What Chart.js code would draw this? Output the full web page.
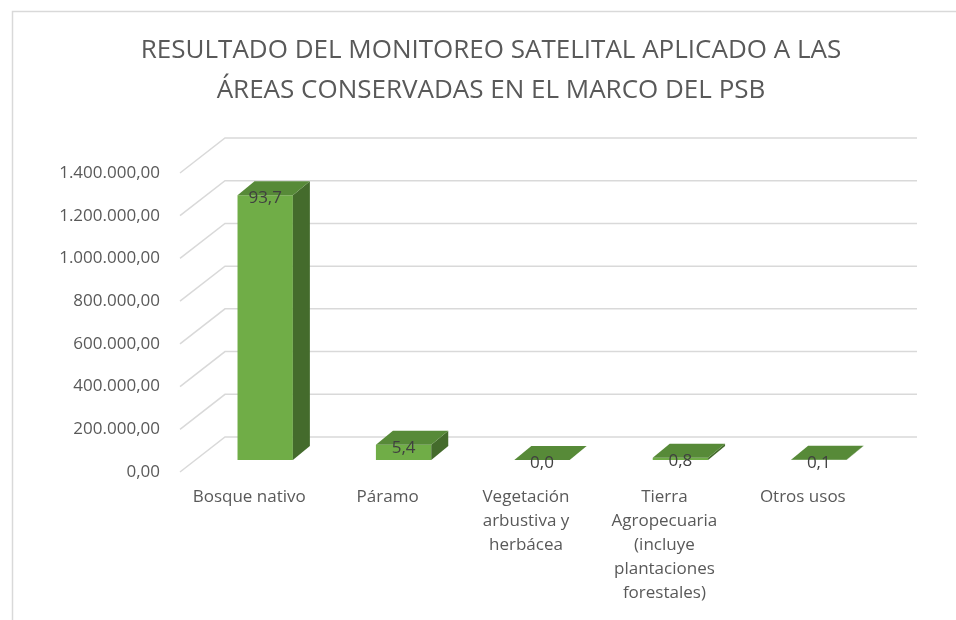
<!DOCTYPE html>
<html>
<head>
<meta charset="utf-8">
<script src="https://cdn.jsdelivr.net/npm/chart.js@4.4.1/dist/chart.umd.min.js"></script>
<style>
  html, body { margin: 0; padding: 0; background: #ffffff; }
  #wrap { width: 956px; height: 620px; }
</style>
</head>
<body>
<div id="wrap"><canvas id="c" width="956" height="620"></canvas></div>
<script>
// ---- Data ----
const titleLines = ['RESULTADO DEL MONITOREO SATELITAL APLICADO A LAS', 'ÁREAS CONSERVADAS EN EL MARCO DEL PSB'];
const categories = [
  'Bosque nativo',
  'Páramo',
  ['Vegetación', 'arbustiva y', 'herbácea'],
  ['Tierra', 'Agropecuaria', '(incluye', 'plantaciones', 'forestales)'],
  'Otros usos'
];
const areaValues = [1240000, 71500, 400, 10600, 1300];
const percentLabels = [93.7, 5.4, 0.0, 0.8, 0.1];
const yTickValues = [0, 200000, 400000, 600000, 800000, 1000000, 1200000, 1400000];

// ---- helpers ----
function fmtEs(v, dec) {
  const s = Number(v).toFixed(dec);
  const parts = s.split('.');
  const int = parts[0].replace(/\B(?=(\d{3})+(?!\d))/g, '.');
  return parts.length > 1 ? int + ',' + parts[1] : int;
}

// depth offsets relative to the bar front plane
const BACK = { dx: 29, dy: -23 };
const FRONT = { dx: -16, dy: 12 };
const BAR_D = { dx: 17, dy: -14 };
const GRID_COLOR = '#d9d9d9';
const FRONT_COLOR = '#70ad47';
const TOP_COLOR = '#578a38';
const SIDE_COLOR = '#446b2c';

const framePlugin = {
  id: 'frame',
  beforeDraw(chart) {
    const ctx = chart.ctx;
    ctx.save();
    ctx.fillStyle = '#ffffff';
    ctx.fillRect(0, 0, chart.width, chart.height);
    ctx.strokeStyle = '#d9d9d9';
    ctx.lineWidth = 1.5;
    ctx.beginPath();
    ctx.moveTo(12.5, chart.height);
    ctx.lineTo(12.5, 11.5);
    ctx.lineTo(chart.width, 11.5);
    ctx.stroke();
    ctx.restore();
  },
  afterDraw(chart) {
    const ctx = chart.ctx;
    ctx.save();
    ctx.fillStyle = '#595959';
    ctx.font = '26px "Open Sans"';
    ctx.textAlign = 'center';
    ctx.textBaseline = 'middle';
    titleLines.forEach((line, i) => ctx.fillText(line, 491, 51 + i * 40));
    ctx.restore();
  }
};

const wallPlugin = {
  id: 'wall3d',
  beforeDatasetsDraw(chart) {
    const ctx = chart.ctx;
    const y = chart.scales.y;
    const a = chart.chartArea;
    ctx.save();
    ctx.strokeStyle = GRID_COLOR;
    ctx.lineWidth = 1.5;
    y.ticks.forEach(t => {
      const py = y.getPixelForValue(t.value);
      ctx.beginPath();
      ctx.moveTo(a.left + FRONT.dx, py + FRONT.dy);
      ctx.lineTo(a.left + BACK.dx, py + BACK.dy);
      ctx.lineTo(a.right + BACK.dx, py + BACK.dy);
      ctx.stroke();
    });
    ctx.restore();
  }
};

const bar3dPlugin = {
  id: 'bar3d',
  afterDatasetsDraw(chart) {
    const ctx = chart.ctx;
    const meta = chart.getDatasetMeta(0);
    ctx.save();
    meta.data.forEach((bar, i) => {
      const p = bar.getProps(['x', 'y', 'base', 'width'], true);
      const x1 = p.x - p.width / 2, x2 = p.x + p.width / 2;
      const top = p.y, base = p.base;
      // side face
      ctx.fillStyle = SIDE_COLOR;
      ctx.beginPath();
      ctx.moveTo(x2, top);
      ctx.lineTo(x2 + BAR_D.dx, top + BAR_D.dy);
      ctx.lineTo(x2 + BAR_D.dx, base + BAR_D.dy);
      ctx.lineTo(x2, base);
      ctx.closePath();
      ctx.fill();
      // top face
      ctx.fillStyle = TOP_COLOR;
      ctx.beginPath();
      ctx.moveTo(x1, top);
      ctx.lineTo(x2, top);
      ctx.lineTo(x2 + BAR_D.dx, top + BAR_D.dy);
      ctx.lineTo(x1 + BAR_D.dx, top + BAR_D.dy);
      ctx.closePath();
      ctx.fill();
      // data label
      ctx.fillStyle = '#404040';
      ctx.font = '17px "Open Sans"';
      ctx.textAlign = 'center';
      ctx.textBaseline = 'middle';
      ctx.fillText(fmtEs(percentLabels[i], 1), p.x, top + 3);
    });
    ctx.restore();
  }
};

Chart.defaults.font.family = '"Open Sans", sans-serif';

new Chart(document.getElementById('c'), {
  type: 'bar',
  data: {
    labels: categories,
    datasets: [{
      data: areaValues,
      backgroundColor: FRONT_COLOR,
      borderWidth: 0,
      barPercentage: 0.4,
      categoryPercentage: 1.0
    }]
  },
  options: {
    responsive: false,
    devicePixelRatio: 1,
    animation: false,
    layout: { padding: { left: 0, right: 68, top: 161, bottom: 0 } },
    plugins: {
      legend: { display: false },
      tooltip: { enabled: false },
      title: { display: false }
    },
    scales: {
      x: {
        grid: { display: false, drawTicks: false },
        border: { display: false },
        ticks: {
          color: '#595959',
          font: { size: 17, lineHeight: '24px' },
          padding: 25,
          labelOffset: FRONT.dx,
          maxRotation: 0,
          autoSkip: false
        },
        afterFit(scale) { scale.height = 160; }
      },
      y: {
        min: 0,
        max: 1400000,
        afterBuildTicks(scale) { scale.ticks = yTickValues.map(v => ({ value: v })); },
        grid: { display: false, drawTicks: false },
        border: { display: false },
        ticks: {
          color: '#595959',
          font: { size: 17 },
          padding: 36,
          labelOffset: FRONT.dy,
          callback: v => fmtEs(v, 2)
        },
        afterFit(scale) { scale.width = 196; }
      }
    }
  },
  plugins: [framePlugin, wallPlugin, bar3dPlugin]
});
</script>
</body>
</html>
